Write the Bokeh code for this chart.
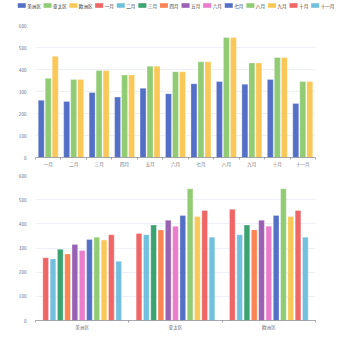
from bokeh.plotting import figure
from bokeh.models import Range1d, ColumnDataSource, FixedTicker
from bokeh.core.properties import value
from bokeh.layouts import column
from bokeh.embed import file_html
from bokeh.resources import INLINE

regions = ["美洲区", "亚太区", "欧洲区"]
months = ["一月", "二月", "三月", "四月", "五月", "六月", "七月", "八月", "九月", "十月", "十一月"]
americas = [260, 255, 295, 275, 315, 290, 335, 345, 333, 355, 245]
apac = [360, 355, 395, 375, 415, 390, 435, 545, 430, 455, 345]
europe = [460, 355, 395, 375, 415, 390, 435, 545, 430, 455, 345]
y_ticks = [0, 100, 200, 300, 400, 500, 600]

palette = ["#5470c6", "#91cc75", "#fac858", "#ee6666", "#73c0de",
           "#3ba272", "#fc8452", "#9a60b4", "#ea7ccc"]
GRAY = "#6e7079"
FONT = "Noto Sans CJK SC"
FS = "4.6px"
BL, BR = 35, 35

series_by_region = {"美洲区": americas, "亚太区": apac, "欧洲区": europe}
region_colors = [palette[i % len(palette)] for i in range(len(regions))]
month_colors = [palette[(j + len(regions)) % len(palette)] for j in range(len(months))]


def make_fig(factors, height, top, bottom):
    n = len(factors)
    p = figure(width=350, height=height, x_range=Range1d(0, n),
               y_range=Range1d(0, 600), output_backend="svg", toolbar_location=None,
               min_border_left=BL, min_border_right=BR, min_border_top=top,
               min_border_bottom=bottom)
    p.outline_line_color = None
    p.xgrid.grid_line_color = None
    p.ygrid.grid_line_color = "#E0E6F1"
    p.ygrid.grid_line_width = 0.6
    p.yaxis.ticker = y_ticks
    p.yaxis.axis_line_color = None
    p.yaxis.major_tick_line_color = None
    p.yaxis.minor_tick_line_color = None
    p.yaxis.major_label_text_font_size = FS
    p.yaxis.major_label_text_color = GRAY
    p.yaxis.major_label_text_font = FONT
    p.yaxis.major_label_standoff = 3
    ax = p.xaxis[0]
    centers = [i + 0.5 for i in range(n)]
    ax.ticker = FixedTicker(ticks=centers, minor_ticks=list(range(n + 1)))
    ax.major_label_overrides = {c: f for c, f in zip(centers, factors)}
    ax.major_tick_line_color = None
    ax.major_tick_out = 2
    ax.major_tick_in = 0
    ax.minor_tick_line_color = GRAY
    ax.minor_tick_line_width = 0.6
    ax.minor_tick_in = 0
    ax.minor_tick_out = 2
    ax.axis_line_color = GRAY
    ax.axis_line_width = 0.6
    ax.major_label_text_font_size = FS
    ax.major_label_text_color = GRAY
    ax.major_label_text_font = FONT
    ax.major_label_standoff = 1
    return p


# Legend strip (layout computed from label lengths, in page pixels)
labels = regions + months
colors = region_colors + month_colors
CH = 4.2      # approx. width of one CJK glyph at FS
SW, GAP, ITEM_GAP = 8, 1.5, 3.7
widths = [SW + GAP + len(s) * CH for s in labels]
total = sum(widths) + ITEM_GAP * (len(labels) - 1)
x0 = (350 - total) / 2
sx, tx = [], []
cur = x0
for wdt in widths:
    sx.append(cur + SW / 2)
    tx.append(cur + SW + GAP)
    cur += wdt + ITEM_GAP
lg = figure(width=350, height=20, x_range=Range1d(BL, 350 - BR), y_range=Range1d(20, 0),
            output_backend="svg", toolbar_location=None, min_border=0,
            min_border_left=BL, min_border_right=BR,
            x_axis_location=None, y_axis_location=None)
lg.grid.visible = False
lg.outline_line_color = None
lsrc = ColumnDataSource(dict(sx=sx, tx=tx, label=labels, color=colors))
r1 = lg.rect(x="sx", y=5, width=SW, height=4.6, fill_color="color", line_color=None, source=lsrc)
r2 = lg.text(x="tx", y=5, text="label", text_font=value(FONT), text_font_size=FS,
             text_color="#333333", text_baseline="middle", text_align="left", source=lsrc)
r1.level = "overlay"
r2.level = "overlay"

# Top chart: months on x, regions as series
n1 = len(months)
centers1 = [i + 0.5 for i in range(n1)]
p1 = make_fig(months, 150, 5, 13)
step1 = 0.275
w1 = 0.236
for i, r in enumerate(regions):
    off = (i - (len(regions) - 1) / 2) * step1
    p1.vbar(x=[x + off for x in centers1], top=series_by_region[r], width=w1,
            fill_color=region_colors[i], line_color="white", line_width=0.5, line_alpha=0.6)

# Bottom chart: regions on x, months as series
n2 = len(regions)
centers2 = [i + 0.5 for i in range(n2)]
p2 = make_fig(regions, 180, 5, 30)
step2 = 0.0782
w2 = 0.061
nm = len(months)
for j, m in enumerate(months):
    off = (j - (nm - 1) / 2) * step2
    vals = [series_by_region[r][j] for r in regions]
    p2.vbar(x=[x + off for x in centers2], top=vals, width=w2,
            fill_color=month_colors[j], line_color="white", line_width=0.5, line_alpha=0.6)

layout = column(lg, p1, p2, spacing=0)
open("out.html", "w").write(file_html(layout, INLINE))
